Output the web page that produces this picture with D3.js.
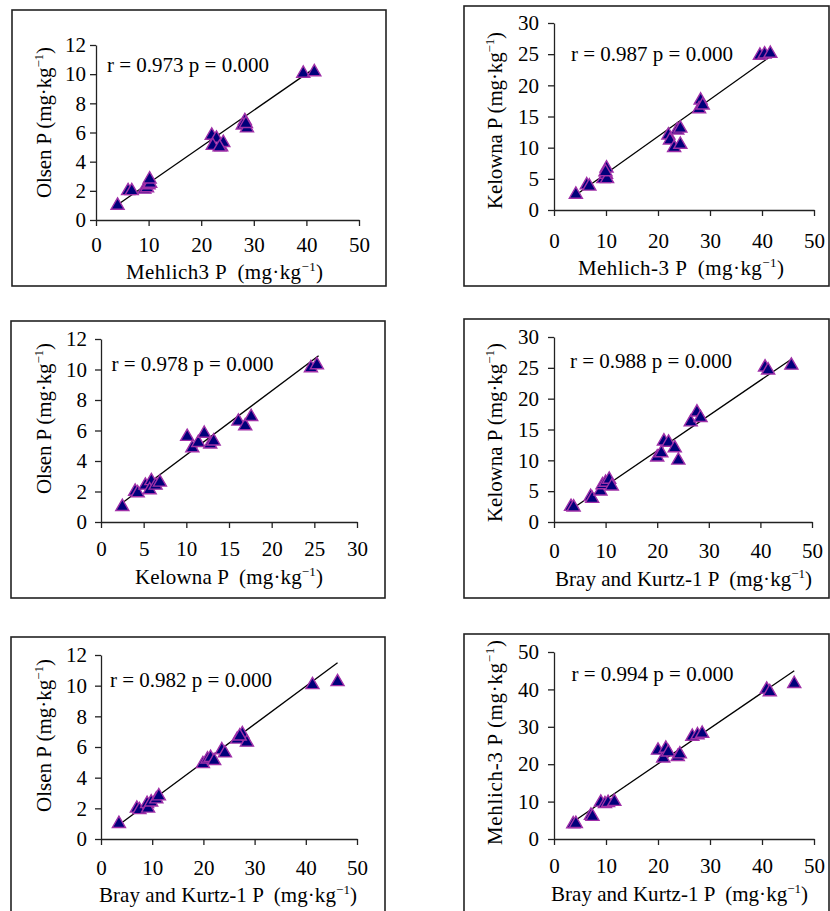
<!DOCTYPE html>
<html><head><meta charset="utf-8">
<script src="https://cdn.jsdelivr.net/npm/d3@7"></script>
<style>
body{margin:0;background:#fff}
svg{display:block}
text{font-family:"Liberation Serif","Times New Roman",serif;fill:#000;white-space:pre}
</style>
</head><body>
<svg id="c" width="830" height="911"></svg>
<script>
// ---------- DATA ----------
// Panel 1: Mehlich3 P (x) vs Olsen P (y)
const p1X = [4.1, 6.1, 6.8, 9.2, 9.7, 10.0, 10.3, 10.2, 22.0, 22.9, 22.2, 23.8, 24.2, 23.5, 28.3, 27.9, 28.7, 28.5, 39.4, 41.5];
const p1Y = [1.0, 2.0, 2.0, 2.1, 2.2, 2.4, 2.5, 2.8, 5.8, 5.6, 5.1, 5.0, 5.3, 5.0, 6.8, 6.5, 6.3, 6.6, 10.05, 10.15];
const p1Fit = [[4.1, 1.05], [41.7, 10.45]];
// Panel 2: Mehlich-3 P (x) vs Kelowna P (y)
const p2X = [4.2, 6.3, 6.8, 9.5, 10.0, 10.1, 10.2, 9.9, 22.0, 22.3, 23.1, 24.3, 23.7, 24.3, 28.2, 27.9, 28.6, 39.6, 40.5, 41.6];
const p2Y = [2.5, 4.0, 3.8, 5.0, 5.7, 6.7, 5.0, 6.1, 12.0, 11.2, 10.0, 10.5, 12.8, 13.1, 17.6, 16.2, 16.8, 24.8, 25.0, 25.1];
const p2Fit = [[4.2, 2.4], [41.4, 24.5]];
// Panel 3: Kelowna P (x) vs Olsen P (y)
const p3X = [2.5, 4.0, 4.3, 5.2, 5.9, 5.7, 6.4, 6.9, 10.1, 10.7, 11.4, 12.1, 12.8, 13.2, 16.1, 16.9, 17.6, 24.6, 25.3];
const p3Y = [1.0, 2.0, 1.9, 2.4, 2.7, 2.1, 2.4, 2.6, 5.6, 4.85, 5.2, 5.8, 5.1, 5.3, 6.6, 6.3, 6.9, 10.1, 10.3];
const p3Fit = [[2.6, 1.3], [25.5, 10.9]];
// Panel 4: Bray and Kurtz-1 P (x) vs Kelowna P (y)
const p4X = [3.3, 3.8, 7.1, 7.4, 9.0, 9.4, 10.0, 10.7, 11.2, 20.0, 20.8, 21.3, 22.2, 23.4, 24.1, 26.5, 27.7, 28.4, 40.9, 41.5, 46.0];
const p4Y = [2.5, 2.4, 4.1, 3.8, 5.0, 6.0, 6.4, 6.9, 5.8, 10.5, 11.2, 13.1, 12.9, 12.0, 10.0, 16.2, 17.8, 16.9, 25.1, 24.6, 25.4];
const p4Fit = [[3.6, 2.2], [46.0, 26.4]];
// Panel 5: Bray and Kurtz-1 P (x) vs Olsen P (y)
const p5X = [3.5, 7.0, 7.5, 9.0, 9.2, 9.8, 10.8, 11.3, 19.9, 20.8, 21.4, 22.1, 23.6, 24.2, 26.6, 27.6, 28.5, 27.1, 41.3, 46.2];
const p5Y = [1.0, 2.0, 1.9, 2.3, 2.0, 2.4, 2.6, 2.8, 4.9, 5.2, 5.3, 5.1, 5.8, 5.6, 6.5, 6.85, 6.3, 6.7, 10.05, 10.25];
const p5Fit = [[3.2, 0.85], [46.2, 11.5]];
// Panel 6: Bray and Kurtz-1 P (x) vs Mehlich-3 P (y)
const p6X = [3.7, 4.2, 7.1, 7.4, 9.0, 9.8, 10.4, 11.6, 20.0, 21.0, 21.5, 22.0, 23.8, 24.2, 26.6, 27.6, 28.5, 40.9, 41.5, 46.2];
const p6Y = [4.0, 4.1, 6.3, 6.0, 9.8, 9.4, 9.7, 10.0, 23.7, 21.6, 24.2, 23.2, 22.0, 22.7, 27.4, 27.8, 28.2, 40.0, 39.3, 41.5];
const p6Fit = [[3.7, 4.6], [46.2, 45.0]];

const stats = ["r = 0.973 p = 0.000", "r = 0.987 p = 0.000", "r = 0.978 p = 0.000",
               "r = 0.988 p = 0.000", "r = 0.982 p = 0.000", "r = 0.994 p = 0.000"];
const xTitles = ["Mehlich3 P  (mg·kg", "Mehlich-3 P  (mg·kg", "Kelowna P  (mg·kg",
                 "Bray and Kurtz-1 P  (mg·kg", "Bray and Kurtz-1 P  (mg·kg", "Bray and Kurtz-1 P  (mg·kg"];
const yTitles = ["Olsen P (mg·kg", "Kelowna P (mg·kg", "Olsen P (mg·kg",
                 "Kelowna P (mg·kg", "Olsen P (mg·kg", "Mehlich-3 P (mg·kg"];
const unitSup = "−1";
const ticks50 = [0, 10, 20, 30, 40, 50];
const ticks30 = [0, 5, 10, 15, 20, 25, 30];
const ticks12 = [0, 2, 4, 6, 8, 10, 12];

// ---------- LAYOUT ----------
// xt: [left start, baseline, width]; yt: [baseline x, bottom y, length]
const layout = [
  {frame:[12,10,386,286],  xr:[96,359],  yr:[220,45],  xg:17, yg:10, xt:[126,279,197],   yt:[51,198,151],  rt:[107,72]},
  {frame:[464,6,829,286],  xr:[554,814], yr:[210,23],  xg:23, yg:15, xt:[578,275,206],   yt:[502,209,177], rt:[571,61]},
  {frame:[11,321,385,598], xr:[101,357], yr:[522,339], xg:19, yg:14, xt:[135,584,188],   yt:[51,494,151],  rt:[111.5,370.5]},
  {frame:[464,319,829,598],xr:[554,812], yr:[522,337], xg:21, yg:15, xt:[555,586,257],   yt:[502,522,179], rt:[570,368.3]},
  {frame:[11,637,385,920], xr:[101,357], yr:[839,655], xg:21, yg:14, xt:[99,901.5,258],  yt:[51,812,153],  rt:[110,686.7]},
  {frame:[464,634,829,920],xr:[554,814], yr:[839,652], xg:19, yg:15, xt:[551,900.5,257], yt:[502,845,205], rt:[571.5,681]}
];

const series = [
  {x:p1X, y:p1Y, fit:p1Fit, xd:[0,50], yd:[0,12], xt:ticks50, yt:ticks12},
  {x:p2X, y:p2Y, fit:p2Fit, xd:[0,50], yd:[0,30], xt:ticks50, yt:ticks30},
  {x:p3X, y:p3Y, fit:p3Fit, xd:[0,30], yd:[0,12], xt:ticks30, yt:ticks12},
  {x:p4X, y:p4Y, fit:p4Fit, xd:[0,50], yd:[0,30], xt:ticks50, yt:ticks30},
  {x:p5X, y:p5Y, fit:p5Fit, xd:[0,50], yd:[0,12], xt:ticks50, yt:ticks12},
  {x:p6X, y:p6Y, fit:p6Fit, xd:[0,50], yd:[0,50], xt:ticks50, yt:ticks50}
];

const svg = d3.select("#c");
const FS = 21;
const tri = d3.symbol().type(d3.symbolTriangle).size(74);

function addTitle(t, base) {
  t.append("tspan").text(base);
  t.append("tspan").attr("font-size", 13).attr("dy", -8).text(unitSup);
  t.append("tspan").attr("dy", 8).text(")");
}
function fitWidth(t, target) {
  const n = t.text().length;
  const w = t.node().getComputedTextLength();
  const ls = (target - w) / Math.max(1, n - 1);
  t.attr("letter-spacing", ls.toFixed(2));
}

series.forEach((s, i) => {
  const L = layout[i];
  const g = svg.append("g");
  const [fx0, fy0, fx1, fy1] = L.frame;
  g.append("rect").attr("x", fx0).attr("y", fy0).attr("width", fx1 - fx0).attr("height", fy1 - fy0)
    .attr("fill", "none").attr("stroke", "#222").attr("stroke-width", 1.6);

  const x = d3.scaleLinear().domain(s.xd).range(L.xr);
  const y = d3.scaleLinear().domain(s.yd).range(L.yr);

  const xa = g.append("g").attr("transform", `translate(0,${L.yr[0]})`)
    .call(d3.axisBottom(x).tickValues(s.xt).tickSize(6).tickSizeOuter(0).tickPadding(L.xg - 6));
  xa.selectAll("text").attr("font-size", FS).attr("font-family", null).attr("dy", "0.71em");
  const ya = g.append("g").attr("transform", `translate(${L.xr[0]},0)`)
    .call(d3.axisLeft(y).tickValues(s.yt).tickSize(6).tickSizeOuter(0).tickPadding(L.yg - 6));
  ya.selectAll("text").attr("font-size", FS).attr("font-family", null);
  g.selectAll(".domain, .tick line").attr("stroke", "#222").attr("stroke-width", 1.3);

  // regression line
  g.append("line")
    .attr("x1", x(s.fit[0][0])).attr("y1", y(s.fit[0][1]))
    .attr("x2", x(s.fit[1][0])).attr("y2", y(s.fit[1][1]))
    .attr("stroke", "#000").attr("stroke-width", 1.3);

  // markers
  g.selectAll("path.pt").data(s.x.map((v, k) => [v, s.y[k]])).join("path")
    .attr("class", "pt")
    .attr("d", tri)
    .attr("transform", d => `translate(${x(d[0])},${y(d[1])})`)
    .attr("fill", "#00007a").attr("stroke", "#a030a8").attr("stroke-width", 1.4);

  // stats label
  g.append("text").attr("x", L.rt[0]).attr("y", L.rt[1]).attr("font-size", FS).text(stats[i]);

  // x title
  const xt = g.append("text").attr("x", L.xt[0]).attr("y", L.xt[1]).attr("font-size", FS);
  addTitle(xt, xTitles[i]);
  fitWidth(xt, L.xt[2]);

  // y title
  const yt = g.append("text").attr("transform", `translate(${L.yt[0]},${L.yt[1]}) rotate(-90)`)
    .attr("font-size", FS);
  addTitle(yt, yTitles[i]);
  fitWidth(yt, L.yt[2]);
});
</script>
</body></html>
